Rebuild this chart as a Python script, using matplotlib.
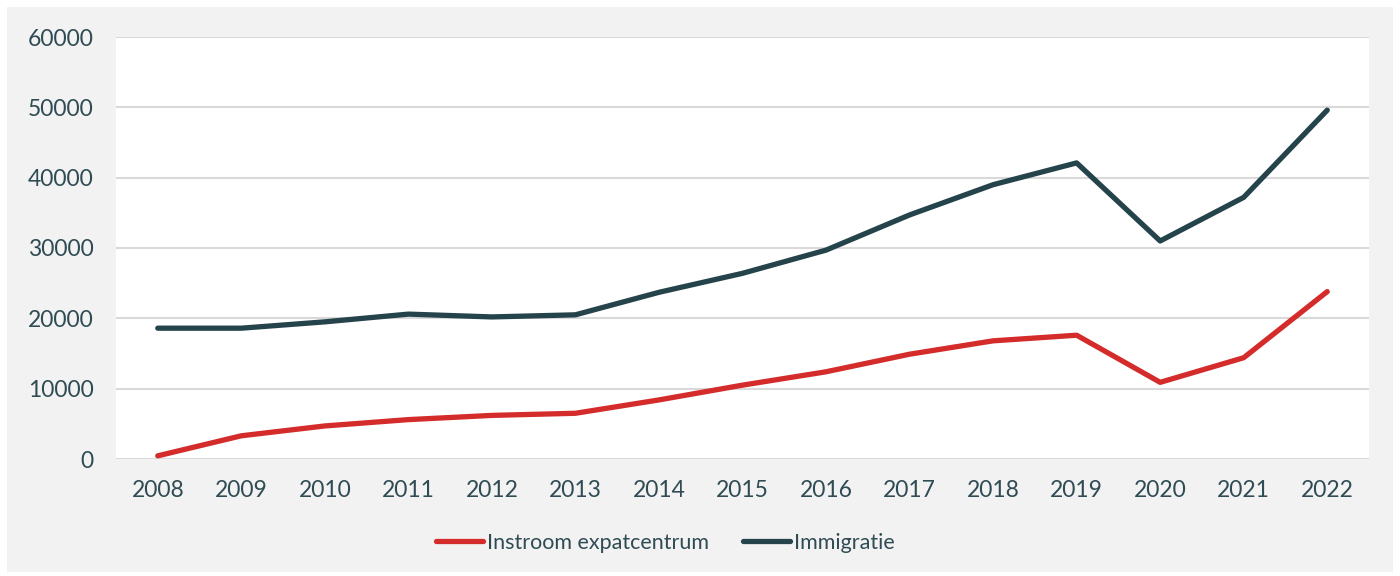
import matplotlib
matplotlib.use("Agg")
import matplotlib.pyplot as plt
from matplotlib.patches import Rectangle

years = ["2008", "2009", "2010", "2011", "2012", "2013", "2014", "2015",
         "2016", "2017", "2018", "2019", "2020", "2021", "2022"]
instroom = [450, 3300, 4700, 5600, 6200, 6500, 8400, 10500, 12400, 14900,
            16800, 17600, 10900, 14400, 23800]
immigratie = [18600, 18600, 19500, 20600, 20200, 20500, 23700, 26400, 29700,
              34700, 39000, 42100, 31000, 37200, 49600]
yticks = [0, 10000, 20000, 30000, 40000, 50000, 60000]

RED = "#d42b2b"
DARK = "#25434a"
TXT = "#2f4b53"
BG = "#f2f2f2"
GRID = "#d9d9d9"

plt.rcParams['font.family'] = ['Lato', 'DejaVu Sans']

W, H = 1400, 576
fig = plt.figure(figsize=(W / 100, H / 100), dpi=100, facecolor="white")
fig.patches.append(Rectangle((7 / W, 4 / H), (1393 - 7) / W, (569 - 4) / H,
                             transform=fig.transFigure, facecolor=BG,
                             edgecolor="none", zorder=-10))

ax = fig.add_axes([116 / W, 1 - 459 / H, (1369 - 116) / W, (459 - 37) / H])
ax.set_zorder(1)
ax.set_facecolor("white")
x = list(range(len(years)))
ax.plot(x, instroom, color=RED, lw=3.8, solid_capstyle="round",
        solid_joinstyle="round", label="Instroom expatcentrum", zorder=3)
ax.plot(x, immigratie, color=DARK, lw=3.8, solid_capstyle="round",
        solid_joinstyle="round", label="Immigratie", zorder=3)

ax.set_xlim(-0.5, len(years) - 0.5)
ax.set_ylim(0, 60000)
ax.set_yticks(yticks)
ax.set_yticklabels([str(v) for v in yticks])
ax.set_xticks(x)
ax.set_xticklabels(years)
ax.tick_params(axis="both", length=0, labelsize=16.5, colors=TXT)
ax.tick_params(axis="y", pad=16)
ax.tick_params(axis="x", pad=15)
ax.grid(axis="y", color=GRID, lw=1.5, zorder=1)
for s in ax.spines.values():
    s.set_visible(False)

leg = fig.legend(loc="center left", bbox_to_anchor=(436 / W, 1 - 543 / H),
                 ncol=2, frameon=False, fontsize=15.5, handlelength=2.2,
                 handletextpad=0.15, columnspacing=1.6, borderpad=0,
                 borderaxespad=0)
for t in leg.get_texts():
    t.set_color(TXT)

fig.savefig("out.png", dpi=100, facecolor="white")
